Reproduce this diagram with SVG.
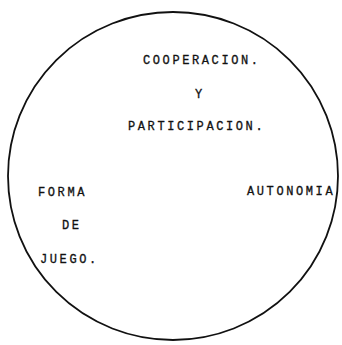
<svg xmlns="http://www.w3.org/2000/svg" width="342" height="345" viewBox="0 0 342 345">
<style>
.t{font-family:"Liberation Mono","DejaVu Sans Mono",monospace;font-size:12px;letter-spacing:2.6px;fill:#111;stroke:#111;stroke-width:0.3}
.c{fill:none;stroke:#111;stroke-width:1.8}
</style>
<rect width="342" height="345" fill="#fff"/>
<g id="circle"><ellipse class="c" cx="173" cy="176" rx="165" ry="164"/></g>
<g id="connectors"></g>
<g id="cooperacion">
<text class="t" x="143" y="64">COOPERACION.</text>
<text class="t" x="195" y="98">Y</text>
<text class="t" x="128" y="130">PARTICIPACION.</text>
</g>
<g id="forma"><text class="t" x="38" y="196">FORMA</text>
<text class="t" x="62" y="229">DE</text>
<text class="t" x="40" y="263">JUEGO.</text></g>
<g id="autonomia"><text class="t" x="247" y="195">AUTONOMIA</text></g>
</svg>
